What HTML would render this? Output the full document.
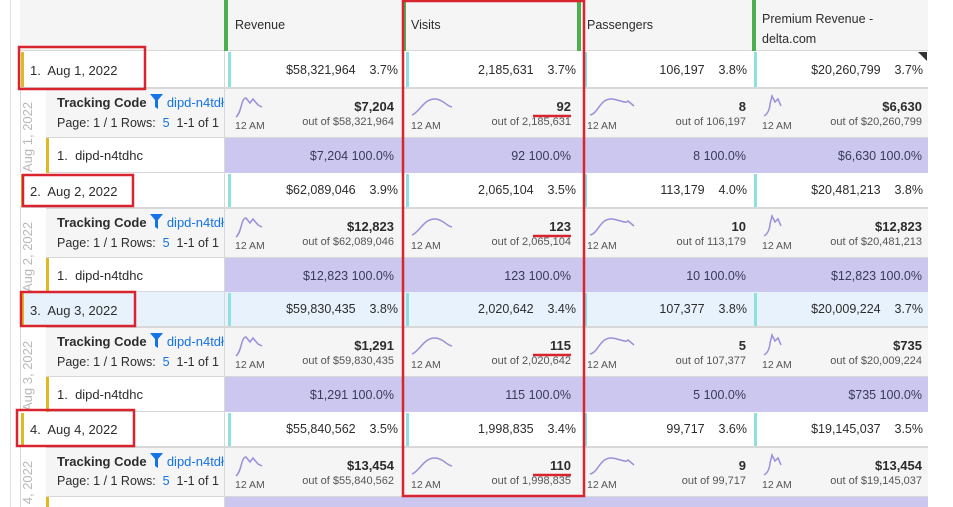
<!DOCTYPE html><html><head><style>
*{box-sizing:border-box;margin:0;padding:0}
html{width:953px;height:507px;overflow:hidden}
body{width:953px;height:507px;background:#fff;font-family:"Liberation Sans",sans-serif;font-size:12.5px;color:#2c2c2c;position:relative;overflow:hidden}
.a{position:absolute}
.hd{background:#f5f5f5;border-bottom:1px solid #d8d8d8}
.cy{position:absolute;width:3px;background:#8fe0e0}
.num{position:absolute;text-align:right;white-space:nowrap}
.trk{background:#f5f5f5;border-top:1px solid #d8d8d8;border-bottom:1px solid #d8d8d8}
.pur{background:#cbc7ee}
.vt{position:absolute;color:#b8b8b8;font-size:13px;transform:rotate(-90deg);transform-origin:left top;white-space:nowrap}
.clip{position:absolute;left:20px;width:26px;overflow:hidden}
.fn{display:inline-block;vertical-align:-2px}
</style></head><body>
<div class="a" style="left:20px;top:0;width:908px;height:507px;border-left:1px solid #d8d8d8;border-right:1px solid #d8d8d8"></div>
<div class="a" style="left:10px;top:0;width:1px;height:507px;background:#e0e0e0"></div>
<div class="a hd" style="left:20px;top:0;width:908px;height:51px"></div>
<div class="a" style="left:224px;top:0;width:4px;height:51px;background:#4cb050"></div>
<div class="a" style="left:402px;top:0;width:4px;height:51px;background:#4cb050"></div>
<div class="a" style="left:577px;top:0;width:4px;height:51px;background:#4cb050"></div>
<div class="a" style="left:752px;top:0;width:4px;height:51px;background:#4cb050"></div>
<div class="a" style="left:235px;top:18px">Revenue</div>
<div class="a" style="left:411px;top:18px">Visits</div>
<div class="a" style="left:587px;top:18px">Passengers</div>
<div class="a" style="left:762px;top:9px;line-height:20px">Premium Revenue -<br>delta.com</div>
<div class="a" style="left:402px;top:51px;width:1px;height:456px;background:#d8d8d8"></div>
<div class="a" style="left:580px;top:51px;width:1px;height:456px;background:#d8d8d8"></div>
<div class="a" style="left:752px;top:51px;width:1px;height:456px;background:#d8d8d8"></div>

<!-- G1 -->
<div class="a" style="left:20px;top:51px;width:908px;height:37px;background:#fff;border-bottom:1px solid #d8d8d8"></div>
<div class="a" style="left:21px;top:52px;width:3px;height:35px;background:#e0b81f"></div>
<div class="a" style="left:30px;top:63px;font-size:13px">1.&nbsp; Aug 1, 2022</div>
<div class="cy" style="left:228px;top:52px;height:35px"></div><div class="cy" style="left:406px;top:52px;height:35px"></div><div class="cy" style="left:584px;top:52px;height:35px"></div><div class="cy" style="left:754px;top:52px;height:35px"></div>
<div class="num" style="right:555px;top:63px">$58,321,964&nbsp;&nbsp;&nbsp; 3.7%</div>
<div class="num" style="right:377px;top:63px">2,185,631&nbsp;&nbsp;&nbsp; 3.7%</div>
<div class="num" style="right:206px;top:63px">106,197&nbsp;&nbsp;&nbsp; 3.8%</div>
<div class="num" style="right:30px;top:63px">$20,260,799&nbsp;&nbsp;&nbsp; 3.7%</div>
<div class="a" style="left:918px;top:52px;border-top:9px solid #333;border-left:9px solid transparent"></div>
<div class="a trk" style="left:46px;top:88px;width:882px;height:50px"></div>
<div class="clip" style="top:88px;height:85px"><div class="vt" style="left:0;top:84px">Aug 1, 2022</div></div>
<div class="a" style="left:57px;top:94px;font-weight:bold;font-size:13px">Tracking Code <svg class="fn" width="13" height="15" viewBox="0 0 13 15"><path d="M0 0H13L8 6V15L5 13V6Z" fill="#1473e6"/></svg> <span style="color:#1473e6;font-weight:normal">dipd-n4tdł</span></div>
<div class="a" style="left:57px;top:116px">Page: 1 / 1 Rows:&nbsp; <span style="color:#1473e6">5</span>&nbsp; 1-1 of 1</div>
<div class="a" style="left:46px;top:138px;width:882px;height:35px;border-bottom:1px solid #d8d8d8"></div>
<div class="a" style="left:46px;top:138px;width:3px;height:35px;background:#e0b81f"></div>
<div class="a" style="left:57px;top:148px;font-size:13px">1.&nbsp; dipd-n4tdhc</div>
<div class="a pur" style="left:224px;top:138px;width:704px;height:35px"></div>

<!-- G2 -->
<div class="a" style="left:20px;top:173px;width:908px;height:35px;background:#fff;border-bottom:1px solid #d8d8d8"></div>
<div class="a" style="left:21px;top:174px;width:3px;height:33px;background:#e0b81f"></div>
<div class="a" style="left:30px;top:184px;font-size:13px">2.&nbsp; Aug 2, 2022</div>
<div class="cy" style="left:228px;top:174px;height:33px"></div><div class="cy" style="left:406px;top:174px;height:33px"></div><div class="cy" style="left:584px;top:174px;height:33px"></div><div class="cy" style="left:754px;top:174px;height:33px"></div>
<div class="num" style="right:555px;top:183px">$62,089,046&nbsp;&nbsp;&nbsp; 3.9%</div>
<div class="num" style="right:377px;top:183px">2,065,104&nbsp;&nbsp;&nbsp; 3.5%</div>
<div class="num" style="right:206px;top:183px">113,179&nbsp;&nbsp;&nbsp; 4.0%</div>
<div class="num" style="right:30px;top:183px">$20,481,213&nbsp;&nbsp;&nbsp; 3.8%</div>
<div class="a trk" style="left:46px;top:208px;width:882px;height:50px"></div>
<div class="clip" style="top:208px;height:84px"><div class="vt" style="left:0;top:84px">Aug 2, 2022</div></div>
<div class="a" style="left:57px;top:214px;font-weight:bold;font-size:13px">Tracking Code <svg class="fn" width="13" height="15" viewBox="0 0 13 15"><path d="M0 0H13L8 6V15L5 13V6Z" fill="#1473e6"/></svg> <span style="color:#1473e6;font-weight:normal">dipd-n4tdł</span></div>
<div class="a" style="left:57px;top:236px">Page: 1 / 1 Rows:&nbsp; <span style="color:#1473e6">5</span>&nbsp; 1-1 of 1</div>
<div class="a" style="left:46px;top:258px;width:882px;height:34px;border-bottom:1px solid #d8d8d8"></div>
<div class="a" style="left:46px;top:258px;width:3px;height:34px;background:#e0b81f"></div>
<div class="a" style="left:57px;top:268px;font-size:13px">1.&nbsp; dipd-n4tdhc</div>
<div class="a pur" style="left:224px;top:258px;width:704px;height:34px"></div>

<!-- G3 -->
<div class="a" style="left:20px;top:292px;width:908px;height:35px;background:#e8f2fc;border-bottom:1px solid #d8d8d8"></div>
<div class="a" style="left:21px;top:293px;width:3px;height:33px;background:#e0b81f"></div>
<div class="a" style="left:30px;top:303px;font-size:13px">3.&nbsp; Aug 3, 2022</div>
<div class="cy" style="left:228px;top:293px;height:33px"></div><div class="cy" style="left:406px;top:293px;height:33px"></div><div class="cy" style="left:584px;top:293px;height:33px"></div><div class="cy" style="left:754px;top:293px;height:33px"></div>
<div class="num" style="right:555px;top:302px">$59,830,435&nbsp;&nbsp;&nbsp; 3.8%</div>
<div class="num" style="right:377px;top:302px">2,020,642&nbsp;&nbsp;&nbsp; 3.4%</div>
<div class="num" style="right:206px;top:302px">107,377&nbsp;&nbsp;&nbsp; 3.8%</div>
<div class="num" style="right:30px;top:302px">$20,009,224&nbsp;&nbsp;&nbsp; 3.7%</div>
<div class="a trk" style="left:46px;top:327px;width:882px;height:50px"></div>
<div class="clip" style="top:327px;height:85px"><div class="vt" style="left:0;top:84px">Aug 3, 2022</div></div>
<div class="a" style="left:57px;top:333px;font-weight:bold;font-size:13px">Tracking Code <svg class="fn" width="13" height="15" viewBox="0 0 13 15"><path d="M0 0H13L8 6V15L5 13V6Z" fill="#1473e6"/></svg> <span style="color:#1473e6;font-weight:normal">dipd-n4tdł</span></div>
<div class="a" style="left:57px;top:355px">Page: 1 / 1 Rows:&nbsp; <span style="color:#1473e6">5</span>&nbsp; 1-1 of 1</div>
<div class="a" style="left:46px;top:377px;width:882px;height:35px;border-bottom:1px solid #d8d8d8"></div>
<div class="a" style="left:46px;top:377px;width:3px;height:35px;background:#e0b81f"></div>
<div class="a" style="left:57px;top:387px;font-size:13px">1.&nbsp; dipd-n4tdhc</div>
<div class="a pur" style="left:224px;top:377px;width:704px;height:35px"></div>

<!-- G4 -->
<div class="a" style="left:20px;top:412px;width:908px;height:35px;background:#fff;border-bottom:1px solid #d8d8d8"></div>
<div class="a" style="left:21px;top:413px;width:3px;height:33px;background:#e0b81f"></div>
<div class="a" style="left:30px;top:422px;font-size:13px">4.&nbsp; Aug 4, 2022</div>
<div class="cy" style="left:228px;top:413px;height:33px"></div><div class="cy" style="left:406px;top:413px;height:33px"></div><div class="cy" style="left:584px;top:413px;height:33px"></div><div class="cy" style="left:754px;top:413px;height:33px"></div>
<div class="num" style="right:555px;top:422px">$55,840,562&nbsp;&nbsp;&nbsp; 3.5%</div>
<div class="num" style="right:377px;top:422px">1,998,835&nbsp;&nbsp;&nbsp; 3.4%</div>
<div class="num" style="right:206px;top:422px">99,717&nbsp;&nbsp;&nbsp; 3.6%</div>
<div class="num" style="right:30px;top:422px">$19,145,037&nbsp;&nbsp;&nbsp; 3.5%</div>
<div class="a trk" style="left:46px;top:447px;width:882px;height:50px"></div>
<div class="clip" style="top:447px;height:60px"><div class="vt" style="left:0;top:84px">Aug 4, 2022</div></div>
<div class="a" style="left:57px;top:453px;font-weight:bold;font-size:13px">Tracking Code <svg class="fn" width="13" height="15" viewBox="0 0 13 15"><path d="M0 0H13L8 6V15L5 13V6Z" fill="#1473e6"/></svg> <span style="color:#1473e6;font-weight:normal">dipd-n4tdł</span></div>
<div class="a" style="left:57px;top:474px">Page: 1 / 1 Rows:&nbsp; <span style="color:#1473e6">5</span>&nbsp; 1-1 of 1</div>
<div class="a" style="left:46px;top:497px;width:3px;height:10px;background:#e0b81f"></div>
<div class="a pur" style="left:224px;top:497px;width:704px;height:10px"></div>
<div class="a" style="left:224px;top:51px;width:1px;height:456px;background:#d8d8d8"></div>

<svg class="a" style="left:0;top:0" width="953" height="507">
<g fill="none" stroke="#9b8fdb" stroke-width="1.5">
<path d="M236 117 C242 112 241 98 246 98 L250 103 L253 99 L258 105 L262 107"/>
<path d="M412 115 C420 112 424 98 436 99 C444 100 446 106 452 107"/>
<path d="M590 115 C598 114 600 98 612 99 C620 100 626 104 628 101 L634 106"/>
<path d="M764 116 C768 114 770 108 770 104 L772 96 L775 102 L778 99 L781 106"/>
<path d="M236 237 C242 232 241 218 246 218 L250 223 L253 219 L258 225 L262 227"/>
<path d="M412 235 C420 232 424 218 436 219 C444 220 446 226 452 227"/>
<path d="M590 235 C598 234 600 218 612 219 C620 220 626 224 628 221 L634 226"/>
<path d="M764 236 C768 234 770 228 770 224 L772 216 L775 222 L778 219 L781 226"/>
<path d="M236 356 C242 351 241 337 246 337 L250 342 L253 338 L258 344 L262 346"/>
<path d="M412 354 C420 351 424 337 436 338 C444 339 446 345 452 346"/>
<path d="M590 354 C598 353 600 337 612 338 C620 339 626 343 628 340 L634 345"/>
<path d="M764 355 C768 353 770 347 770 343 L772 335 L775 341 L778 338 L781 345"/>
<path d="M236 476 C242 471 241 457 246 457 L250 462 L253 458 L258 464 L262 466"/>
<path d="M412 474 C420 471 424 457 436 458 C444 459 446 465 452 466"/>
<path d="M590 474 C598 473 600 457 612 458 C620 459 626 463 628 460 L634 465"/>
<path d="M764 475 C768 473 770 467 770 463 L772 455 L775 461 L778 458 L781 465"/>
</g>
<g font-family="Liberation Sans" font-size="10.5" fill="#555">
<text x="235" y="129">12 AM</text><text x="411" y="129">12 AM</text><text x="587" y="129">12 AM</text><text x="762" y="129">12 AM</text>
<text x="235" y="249">12 AM</text><text x="411" y="249">12 AM</text><text x="587" y="249">12 AM</text><text x="762" y="249">12 AM</text>
<text x="235" y="368">12 AM</text><text x="411" y="368">12 AM</text><text x="587" y="368">12 AM</text><text x="762" y="368">12 AM</text>
<text x="235" y="488">12 AM</text><text x="411" y="488">12 AM</text><text x="587" y="488">12 AM</text><text x="762" y="488">12 AM</text>
</g>
<g font-family="Liberation Sans" text-anchor="end">
<g font-size="13" font-weight="bold" fill="#2c2c2c">
<text x="394" y="111">$7,204</text><text x="571" y="111">92</text><text x="746" y="111">8</text><text x="922" y="111">$6,630</text>
<text x="394" y="231">$12,823</text><text x="571" y="231">123</text><text x="746" y="231">10</text><text x="922" y="231">$12,823</text>
<text x="394" y="350">$1,291</text><text x="571" y="350">115</text><text x="746" y="350">5</text><text x="922" y="350">$735</text>
<text x="394" y="470">$13,454</text><text x="571" y="470">110</text><text x="746" y="470">9</text><text x="922" y="470">$13,454</text>
</g>
<g font-size="11" fill="#555">
<text x="394" y="125">out of $58,321,964</text><text x="571" y="125">out of 2,185,631</text><text x="746" y="125">out of 106,197</text><text x="922" y="125">out of $20,260,799</text>
<text x="394" y="245">out of $62,089,046</text><text x="571" y="245">out of 2,065,104</text><text x="746" y="245">out of 113,179</text><text x="922" y="245">out of $20,481,213</text>
<text x="394" y="364">out of $59,830,435</text><text x="571" y="364">out of 2,020,642</text><text x="746" y="364">out of 107,377</text><text x="922" y="364">out of $20,009,224</text>
<text x="394" y="484">out of $55,840,562</text><text x="571" y="484">out of 1,998,835</text><text x="746" y="484">out of 99,717</text><text x="922" y="484">out of $19,145,037</text>
</g>
<g font-size="12.5" fill="#3a3a5a">
<text x="394" y="160">$7,204  100.0%</text><text x="571" y="160">92  100.0%</text><text x="746" y="160">8  100.0%</text><text x="922" y="160">$6,630  100.0%</text>
<text x="394" y="280">$12,823  100.0%</text><text x="571" y="280">123  100.0%</text><text x="746" y="280">10  100.0%</text><text x="922" y="280">$12,823  100.0%</text>
<text x="394" y="399">$1,291  100.0%</text><text x="571" y="399">115  100.0%</text><text x="746" y="399">5  100.0%</text><text x="922" y="399">$735  100.0%</text>
</g>
</g>
<g fill="none" stroke="#d9232e" stroke-width="2.5">
<rect x="19" y="47" width="126" height="42"/>
<rect x="23" y="175" width="110" height="31"/>
<rect x="21" y="292" width="114" height="34"/>
<rect x="17" y="410" width="117" height="36"/>
<rect x="403" y="1" width="181" height="495"/>
<line x1="533" y1="116" x2="571" y2="116"/>
<line x1="533" y1="236" x2="571" y2="236"/>
<line x1="533" y1="355" x2="571" y2="355"/>
<line x1="533" y1="475" x2="571" y2="475"/>
</g>
</svg>
</body></html>
